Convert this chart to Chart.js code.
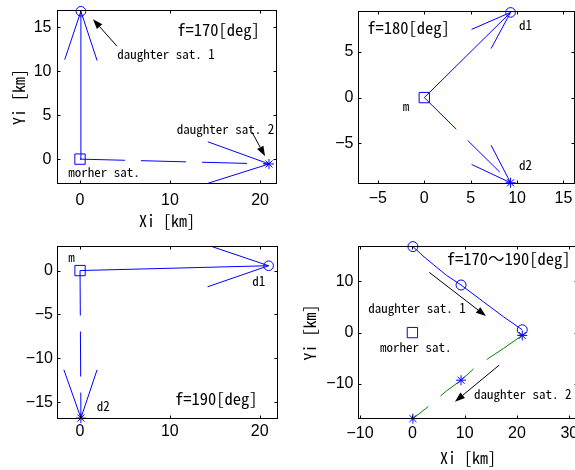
<!DOCTYPE html>
<html><head><meta charset="utf-8">
<script src="https://cdn.jsdelivr.net/npm/chart.js@4.4.1/dist/chart.umd.min.js"></script>
<style>
html,body{margin:0;padding:0;background:#fff;}
#wrap{position:relative;width:575px;height:470px;overflow:hidden;background:#fff;}
#wrap canvas{position:absolute;left:-50px;top:-45px;}
</style></head>
<body><div id="wrap">
<canvas id="c1" width="700" height="570"></canvas>
<canvas id="c2" width="700" height="570"></canvas>
<canvas id="c3" width="700" height="570"></canvas>
<canvas id="c4" width="700" height="570"></canvas>
</div>
<script>
// ---------------- data ----------------
const angles = [170, 180, 190];
const motherX = [0], motherY = [0];
const d1X = [0.1, 9.3, 21.0];
const d1Y = [16.8, 9.3, 0.55];
const d2X = [21.0, 9.3, 0.1];
const d2Y = [-0.55, -9.3, -16.8];
// arrow-head wing tips drawn at each daughter satellite
const wing170d1X = [-1.7, 1.9],  wing170d1Y = [11.3, 11.2];
const wing170d2X = [14.2, 14.2], wing170d2Y = [1.97, -2.75];
const wing180d1X = [5.1, 7.2],   wing180d1Y = [7.45, 5.35];
const wing180d2X = [5.1, 7.2],   wing180d2Y = [-7.3, -5.2];
const wing190d1X = [14.2, 14.2], wing190d1Y = [2.9, -1.85];
const wing190d2X = [-1.8, 1.9],  wing190d2Y = [-11.3, -11.3];
// trajectories for f = 170..190 deg
const path1X = [0.1, 2.0, 4.0, 6.5, 9.3, 13.6, 17.4, 21.0];
const path1Y = [16.8, 15.0, 13.3, 11.2, 9.3, 6.0, 3.1, 0.55];
const path2X = [21.0, 17.4, 14.3, 11.8, 9.3, 6.5, 4.0, 2.0, 0.1];
const path2Y = [-0.55, -3.1, -5.2, -7.0, -9.3, -11.4, -13.6, -15.3, -16.8];
// axis limits and ticks
const p1XRange = [-2.5, 21.83],  p1YRange = [-2.77, 16.89];
const p2XRange = [-7.09, 16.19], p2YRange = [-9.38, 9.4];
const p3XRange = [-2.51, 21.99], p3YRange = [-16.85, 2.74];
const p4XRange = [-10.3, 31.56], p4YRange = [-16.78, 16.82];
const p1XTicks = [0, 10, 20],            p1YTicks = [0, 5, 10, 15];
const p2XTicks = [-5, 0, 5, 10, 15],     p2YTicks = [-5, 0, 5];
const p3XTicks = [0, 10, 20],            p3YTicks = [-15, -10, -5, 0];
const p4XTicks = [-10, 0, 10, 20, 30],   p4YTicks = [-10, 0, 10];

// ---------------- helpers ----------------
const BLUE = '#0000ff', GREEN = '#008000';
const TXT = '"Noto Sans Mono CJK JP","Noto Sans CJK JP","Liberation Sans",sans-serif';
const TICKF = '"Liberation Sans",Arial,sans-serif';
const OX = 50, OY = 45, CW = 700, CH = 570;

function pts(xs, ys) { return xs.map((v, i) => ({x: v, y: ys[i]})); }
function wing(cx, cy, wx, wy) { return [{x: wx[0], y: wy[0]}, {x: cx, y: cy}, {x: wx[1], y: wy[1]}]; }
function lineDS(data, color, dash) {
  return {data, showLine: true, borderColor: color, borderWidth: 1, borderDash: dash || [],
          pointRadius: 0, fill: false, tension: 0};
}
function markDS(data, style, r) {
  return {data, showLine: false, pointStyle: style, pointRadius: r, pointBorderColor: BLUE,
          pointBackgroundColor: 'rgba(0,0,0,0)', pointBorderWidth: 1, clip: false};
}
const fmt = v => v < 0 ? '\u2212' + Math.abs(v) : String(v);

const boxPlugin = {
  id: 'mbox',
  afterDatasetsDraw(chart) {
    const {ctx, chartArea: a, scales: {x, y}} = chart;
    ctx.save();
    ctx.strokeStyle = '#000'; ctx.lineWidth = 1;
    ctx.strokeRect(a.left, a.top, a.right - a.left, a.bottom - a.top);
    const L = 3;
    ctx.beginPath();
    x.ticks.forEach(t => {
      const p = Math.round(x.getPixelForValue(t.value)) + 0.5;
      ctx.moveTo(p, a.bottom); ctx.lineTo(p, a.bottom - L);
      ctx.moveTo(p, a.top); ctx.lineTo(p, a.top + L);
    });
    y.ticks.forEach(t => {
      const p = Math.round(y.getPixelForValue(t.value)) + 0.5;
      ctx.moveTo(a.left, p); ctx.lineTo(a.left + L, p);
      ctx.moveTo(a.right, p); ctx.lineTo(a.right - L, p);
    });
    ctx.stroke();
    ctx.restore();
  }
};
const annotPlugin = {
  id: 'annot',
  afterDraw(chart, args, opts) {
    const {ctx, scales: {x, y}} = chart;
    ctx.save();
    (opts.texts || []).forEach(t => {
      ctx.font = t.size + 'px ' + TXT;
      ctx.fillStyle = '#000';
      ctx.textAlign = 'left'; ctx.textBaseline = 'alphabetic';
      ctx.fillText(t.t, x.getPixelForValue(t.x), y.getPixelForValue(t.y));
    });
    (opts.arrows || []).forEach(a => {
      const x0 = x.getPixelForValue(a.from[0]), y0 = y.getPixelForValue(a.from[1]);
      const x1 = x.getPixelForValue(a.to[0]), y1 = y.getPixelForValue(a.to[1]);
      const ang = Math.atan2(y1 - y0, x1 - x0);
      const hl = 10, hw = 3.6;
      const bx = x1 - hl * Math.cos(ang), by = y1 - hl * Math.sin(ang);
      ctx.strokeStyle = '#000'; ctx.fillStyle = '#000'; ctx.lineWidth = 1;
      ctx.beginPath(); ctx.moveTo(x0, y0); ctx.lineTo(bx, by); ctx.stroke();
      ctx.beginPath();
      ctx.moveTo(x1, y1);
      ctx.lineTo(bx + hw * Math.sin(ang), by - hw * Math.cos(ang));
      ctx.lineTo(bx - hw * Math.sin(ang), by + hw * Math.cos(ang));
      ctx.closePath(); ctx.fill();
    });
    ctx.restore();
  }
};

function makeChart(id, c) {
  const [bl, bt, br, bb] = c.box;
  const padding = {left: bl + OX - c.yW, top: bt + OY, right: CW - (br + OX), bottom: CH - (bb + OY) - c.xH};
  const tickFont = {family: TICKF, size: 16};
  return new Chart(document.getElementById(id), {
    type: 'scatter',
    data: {datasets: c.datasets},
    options: {
      responsive: false, animation: false, events: [],
      layout: {padding},
      plugins: {legend: {display: false}, tooltip: {enabled: false}, annot: {texts: c.texts, arrows: c.arrows}},
      scales: {
        x: {type: 'linear', position: 'bottom', min: c.xr[0], max: c.xr[1],
            grid: {display: false, drawTicks: false}, border: {display: false},
            ticks: {font: tickFont, color: '#000', padding: c.xPad, callback: fmt, autoSkip: false, maxRotation: 0, includeBounds: false},
            afterBuildTicks: s => { s.ticks = c.xt.map(v => ({value: v})); },
            afterFit: s => { s.height = c.xH; },
            title: {display: !!c.xTitle, text: c.xTitle || '', color: '#000', padding: 0,
                    font: {family: TXT, size: 16, lineHeight: 1}}},
        y: {type: 'linear', position: 'left', min: c.yr[0], max: c.yr[1],
            grid: {display: false, drawTicks: false}, border: {display: false},
            ticks: {font: tickFont, color: '#000', padding: c.yPad, callback: fmt, autoSkip: false, includeBounds: false},
            afterBuildTicks: s => { s.ticks = c.yt.map(v => ({value: v})); },
            afterFit: s => { s.width = c.yW; },
            title: {display: !!c.yTitle, text: c.yTitle || '', color: '#000', padding: 0,
                    font: {family: TXT, size: 16, lineHeight: 1}}}
      }
    },
    plugins: [boxPlugin, annotPlugin]
  });
}

function snapshotSets(i, wdX, wdY, w2X, w2Y) {
  return [
    markDS(pts(motherX, motherY), 'rect', 7.3),
    markDS([{x: d1X[i], y: d1Y[i]}], 'circle', 4.8),
    markDS([{x: d2X[i], y: d2Y[i]}], 'star', 5),
    lineDS([{x: motherX[0], y: motherY[0]}, {x: d1X[i], y: d1Y[i]}], BLUE),
    lineDS([{x: motherX[0], y: motherY[0]}, {x: d2X[i], y: d2Y[i]}], BLUE, [45, 16]),
    lineDS(wing(d1X[i], d1Y[i], wdX, wdY), BLUE),
    lineDS(wing(d2X[i], d2Y[i], w2X, w2Y), BLUE)
  ];
}

makeChart('c1', {
  box: [57.5, 10.5, 276.5, 183.5], yW: 46.5, xH: 45.5, xPad: 7, yPad: 6,
  xr: p1XRange, yr: p1YRange, xt: p1XTicks, yt: p1YTicks,
  xTitle: 'Xi [km]', yTitle: 'Yi [km]',
  datasets: snapshotSets(0, wing170d1X, wing170d1Y, wing170d2X, wing170d2Y),
  texts: [
    {t: 'f=' + angles[0] + '[deg]', x: 10.8, y: 13.98, size: 16.5},
    {t: 'daughter sat. 1', x: 4.14, y: 11.33, size: 13},
    {t: 'daughter sat. 2', x: 10.74, y: 2.8, size: 13},
    {t: 'morher sat.', x: -1.3, y: -2.08, size: 13}
  ],
  arrows: [{from: [4.1, 12.84], to: [1.44, 15.9]}, {from: [19.1, 3.07], to: [20.56, 0.34]}]
});

makeChart('c2', {
  box: [358.5, 11.5, 574.5, 183.5], yW: 40, xH: 40, xPad: 5, yPad: 5,
  xr: p2XRange, yr: p2YRange, xt: p2XTicks, yt: p2YTicks,
  datasets: snapshotSets(1, wing180d1X, wing180d1Y, wing180d2X, wing180d2Y),
  texts: [
    {t: 'f=' + angles[1] + '[deg]', x: -6.15, y: 6.94, size: 16.5},
    {t: 'd1', x: 10.2, y: 7.38, size: 13},
    {t: 'm', x: -2.33, y: -1.44, size: 13},
    {t: 'd2', x: 10.2, y: -7.92, size: 13}
  ],
  arrows: []
});

makeChart('c3', {
  box: [57.5, 246.5, 277.5, 418.5], yW: 40, xH: 40, xPad: 3, yPad: 4.5,
  xr: p3XRange, yr: p3YRange, xt: p3XTicks, yt: p3YTicks,
  datasets: snapshotSets(2, wing190d1X, wing190d1Y, wing190d2X, wing190d2Y),
  texts: [
    {t: 'm', x: -1.3, y: 0.93, size: 13},
    {t: 'd1', x: 19.19, y: -1.73, size: 13},
    {t: 'd2', x: 1.86, y: -16.0, size: 13},
    {t: 'f=' + angles[2] + '[deg]', x: 10.58, y: -15.32, size: 16.5}
  ],
  arrows: []
});

makeChart('c4', {
  box: [358.5, 246.5, 577.5, 418.5], yW: 56.5, xH: 47.2, xPad: 5.5, yPad: 5,
  xr: p4XRange, yr: p4YRange, xt: p4XTicks, yt: p4YTicks,
  xTitle: 'Xi [km]', yTitle: 'Yi [km]',
  datasets: [
    markDS(pts(motherX, motherY), 'rect', 7.3),
    markDS(pts(d1X, d1Y), 'circle', 5),
    markDS(pts(d2X, d2Y), 'star', 5),
    lineDS(pts(path1X, path1Y), BLUE),
    lineDS(pts(path2X, path2Y), GREEN, [43, 16])
  ],
  texts: [
    {t: 'f=' + angles[0] + '\uFF5E' + angles[2] + '[deg]', x: 6.56, y: 13.18, size: 16.5},
    {t: 'daughter sat. 1', x: -8.43, y: 3.75, size: 13},
    {t: 'morher sat.', x: -6.19, y: -3.87, size: 13},
    {t: 'daughter sat. 2', x: 11.77, y: -13.05, size: 13}
  ],
  arrows: [{from: [3.23, 11.76], to: [14.07, 3.22]}, {from: [16.6, -6.35], to: [8.14, -13.5]}]
});
</script>
</body></html>
